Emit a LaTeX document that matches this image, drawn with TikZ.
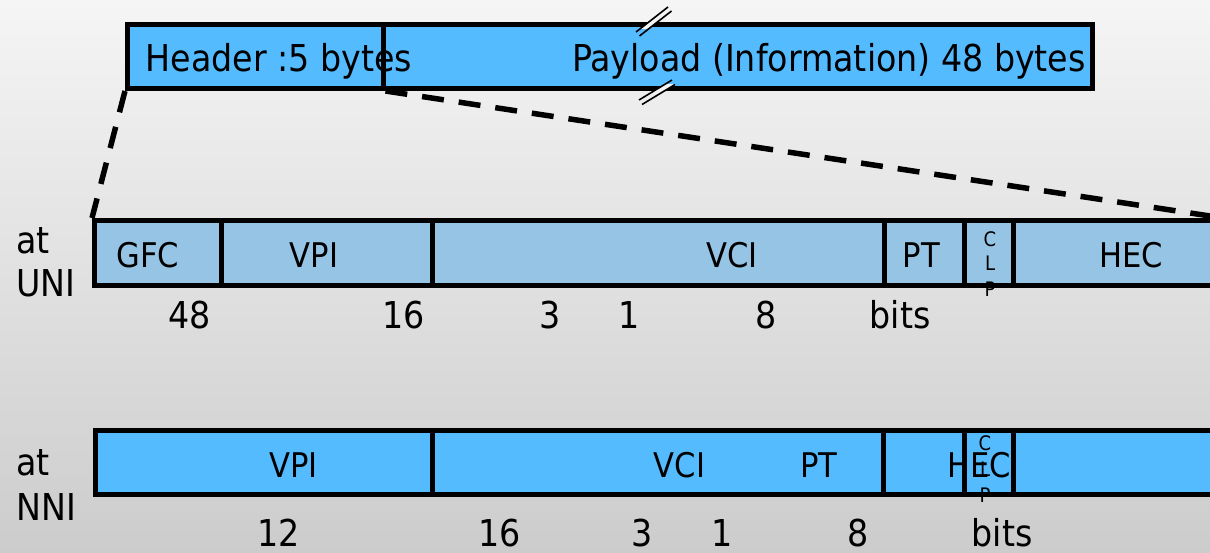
\documentclass[tikz,border=0pt]{standalone}
\usepackage{fontspec}
\setmainfont{DejaVu Sans Condensed}
\definecolor{bgtop}{HTML}{F5F5F5}
\definecolor{bgbot}{HTML}{CCCCCC}
\definecolor{cellblue}{HTML}{55BBFF}
\definecolor{unifill}{HTML}{96C4E4}
\tikzset{
  cellbase/.style={draw=black, line width=5pt, inner sep=0pt, rectangle},
  topcell/.style={cellbase, fill=cellblue, minimum height=64.5pt},
  unicell/.style={cellbase, fill=unifill, minimum height=64.5pt},
  nnicell/.style={cellbase, fill=cellblue, minimum height=64pt},
  bigtxt/.style={inner sep=0pt, anchor=base, font=\fontsize{37}{40}\selectfont},
  sidetxt/.style={inner sep=0pt, anchor=base west, font=\fontsize{37}{40}\selectfont},
  celltxt/.style={inner sep=0pt, anchor=base, font=\fontsize{34}{36}\selectfont},
  tinytxt/.style={inner sep=0pt, anchor=base, font=\fontsize{20}{22}\selectfont},
  zoomline/.style={line width=5.5pt, dash pattern=on 22pt off 15pt},
  breakline/.style={line width=1.6pt}
}
\begin{document}
\begin{tikzpicture}[x=1pt, y=-1pt]
  % page and background shading
  \useasboundingbox (0,0) rectangle (1210,552);
  \clip (0,0) rectangle (1210,552);
  \shade[top color=bgtop, bottom color=bgbot] (0,0) rectangle (1210,552);

  % ATM cell: header and payload
  \node[topcell, minimum width=255.5pt] (hdr) at (255.25,56.25) {};
  \node[topcell, minimum width=709pt] (pay) at (737.5,56.25) {};

  % break marks on the payload
  \begin{scope}
    \clip (600,20) rectangle (700,28.5);
    \fill[bgtop] (636,32) -- (668,7) -- (671,11) -- (639,36) -- cycle;
  \end{scope}
  \draw[breakline] (636,32) -- (668,7);
  \draw[breakline] (639.5,36) -- (671.5,11);
  \begin{scope}
    \clip (600,84.5) rectangle (700,93);
    \fill[bgtop] (639,100) -- (672,80) -- (675,84.5) -- (642,104.5) -- cycle;
  \end{scope}
  \draw[breakline] (639,100) -- (672,80);
  \draw[breakline] (642,104.5) -- (675,84.5);

  % header at the UNI
  \node[unicell, minimum width=126.5pt] (ugfc) at (157.75,252.75) {};
  \node[unicell, minimum width=211pt] (uvpi) at (326.5,252.75) {};
  \node[unicell, minimum width=452pt] (uvci) at (658,252.75) {};
  \node[unicell, minimum width=80pt] (upt) at (924,252.75) {};
  \node[unicell, minimum width=49pt] (uclp) at (988.5,252.75) {};
  \node[unicell, minimum width=227pt] (uhec) at (1126.5,252.75) {};

  % header at the NNI
  \node[nnicell, minimum width=337pt] (nvpi) at (263.5,462.5) {};
  \node[nnicell, minimum width=451.5pt] (nvci) at (657.75,462.5) {};
  \node[nnicell, minimum width=80.5pt] (npt) at (923.75,462.5) {};
  \node[nnicell, minimum width=49pt] (nclp) at (988.5,462.5) {};
  \node[nnicell, minimum width=227pt] (nhec) at (1126.5,462.5) {};

  % zoom lines from the header to its fields
  \coordinate (fold) at (1210,216);
  \draw[zoomline] (hdr.south west) -- (ugfc.north west);
  \draw[zoomline] (hdr.south east) -- (fold);

  % texts of the cell
  \node[bigtxt] (thdr) at (279,71) {Header :5 bytes};
  \node[bigtxt] (tpay) at (829,71) {Payload (Information) 48 bytes};

  % UNI labels
  \node[sidetxt] (uat) at (16,253) {at};
  \node[sidetxt] (uni) at (16,296) {UNI};
  \node[celltxt] (lgfc) at (148,267) {GFC};
  \node[celltxt] (luvpi) at (314,267) {VPI};
  \node[celltxt] (luvci) at (732,267) {VCI};
  \node[celltxt] (lupt) at (921.5,267) {PT};
  \node[celltxt] (luhec) at (1131,267) {HEC};
  \node[tinytxt] (uc) at (990,246) {C};
  \node[tinytxt] (ul) at (990,270) {L};
  \node[tinytxt] (up) at (990,296) {P};
  \node[bigtxt] (ub1) at (190,328) {48};
  \node[bigtxt] (ub2) at (404,328) {16};
  \node[bigtxt] (ub3) at (550,328) {3};
  \node[bigtxt] (ub4) at (629,328) {1};
  \node[bigtxt] (ub5) at (766,328) {8};
  \node[bigtxt] (ub6) at (900,328) {bits};

  % NNI labels
  \node[sidetxt] (nat) at (16,475) {at};
  \node[sidetxt] (nni) at (16,520) {NNI};
  \node[celltxt] (lnvpi) at (293.5,477) {VPI};
  \node[celltxt] (lnvci) at (679.5,477) {VCI};
  \node[celltxt] (lnpt) at (819,477) {PT};
  \node[celltxt] (lnhec) at (979.5,477) {HEC};
  \node[tinytxt] (nc) at (985,450) {C};
  \node[tinytxt] (nl) at (985,476) {L};
  \node[tinytxt] (np) at (985,502) {P};
  \node[bigtxt] (nb1) at (278.5,546) {12};
  \node[bigtxt] (nb2) at (500,546) {16};
  \node[bigtxt] (nb3) at (642,546) {3};
  \node[bigtxt] (nb4) at (722,546) {1};
  \node[bigtxt] (nb5) at (858,546) {8};
  \node[bigtxt] (nb6) at (1002,546) {bits};
\end{tikzpicture}
\end{document}
